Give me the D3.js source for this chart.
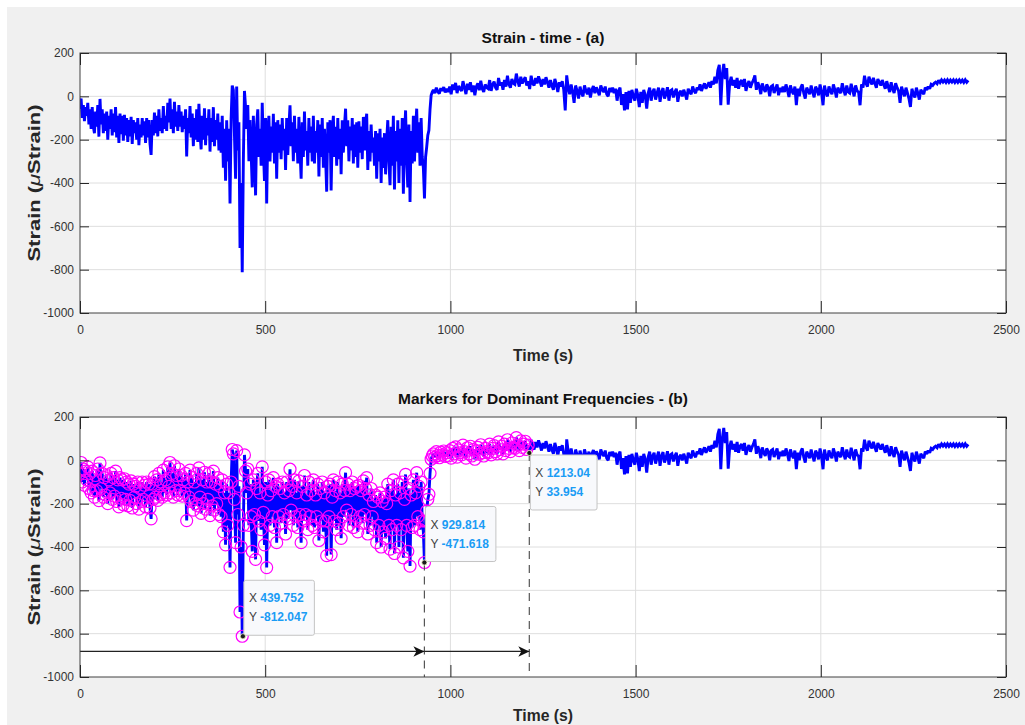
<!DOCTYPE html>
<html><head><meta charset="utf-8">
<script src="https://cdn.jsdelivr.net/npm/d3@7"></script>
<style>body{margin:0;background:#fff}svg{display:block}</style>
</head><body>
<svg id="c" width="1025" height="725"></svg>
<script>
// ---------- data (strain in µStrain, time in s) ----------
// noisy part before the jump: one sample every 3 s
const segAStart = 0, segAStep = 3;
const segA = [-60,-10,-100,-40,-115,-50,-90,-30,-130,-60,
 -150,-50,-140,-170,-70,-140,-40,-186,-12,-130,
 -60,-170,-80,-160,-70,-200,-90,-150,-60,-180,
 -80,-165,-50,-190,-90,-215,-80,-175,-90,-205,
 -85,-180,-100,-210,-110,-185,-95,-220,-110,-170,
 -120,-200,-100,-225,-130,-190,-100,-180,-115,-215,
 -100,-190,-110,-220,-270,-110,-180,-75,-170,-90,
 -185,-60,-160,-100,-170,-45,-150,-90,-160,-30,
 -120,-10,-150,-60,-170,-25,-140,-70,-160,-40,
 -140,-70,-165,-90,-150,-60,-278,-100,-170,-45,
 -190,-80,-230,-100,-200,-60,-210,-35,-170,-245,
 -90,-200,-55,-225,-100,-180,-60,-255,-100,-210,
 -50,-230,-110,-200,-80,-250,-120,-260,-90,-330,
 -150,-390,-110,-300,-150,-494,-100,50,30,-180,
 -380,45,-250,-120,-700,-400,-812,-300,25,-50];
const segBStart = 450, segBStep = 3;
const segB = [-150,-40,-300,-110,-260,-420,-90,-250,-457,-130,
 -60,-280,-150,-320,-30,-240,-390,-100,-495,-160,
 -90,-300,-140,-260,-80,-310,-120,-380,-110,-260,
 -130,-290,-100,-250,-150,-340,-100,-270,-140,-41,
 -230,-120,-300,-90,-260,-150,-310,-95,-250,-380,
 -120,-280,-70,-250,-160,-320,-100,-260,-140,-300,
 -90,-310,-160,-260,-110,-370,-130,-280,-100,-330,
 -150,-280,-440,-120,-260,-110,-435,-170,-90,-280,
 -140,-320,-100,-290,-150,-360,-110,-260,-140,-57,
 -230,-110,-300,-140,-250,-100,-310,-130,-280,-120,
 -330,-115,-260,-140,-290,-95,-250,-130,-80,-340,
 -160,-300,-130,-260,-190,-320,-160,-380,-170,-300,
 -150,-400,-190,-330,-170,-360,-200,-110,-300,-410,
 -140,-320,-90,-430,-160,-300,-110,-400,-150,-320,
 -100,-450,-180,-65,-300,-420,-130,-488,-160,-310,
 -90,-300,-150,-57,-260,-120,-320,-100,-280,-330,
 -471.618,-280,-234,-180,-157,-60,5,20];
// calmer part after the jump: one sample every 4 s
const segCStart = 954, segCStep = 4;
const segC = [30,15,40,22,12,38,25,43,18,35,
 20,45,10,55,30,62,15,48,35,25,
 70,40,10,58,30,65,20,50,5,45,
 60,28,72,35,20,55,40,35,75,25,
 55,68,40,30,85,50,65,30,75,45,
 95,55,40,80,60,55,105,70,45,90,
 60,75,88,50,70,34,95,60,50,85,
 60,92,70,45,80,55,88,65,40,75,
 50,30,80,55,20,65,45,70,30,-65,
 97,40,10,55,20,-30,50,25,-10,45,
 15,0,50,25,10,40,-5,30,48,15,
 42,25,5,50,30,20,45,10,0,38,
 20,40,15,35,-20,25,40,-40,10,-65,
 20,-60,25,-30,30,0,-20,35,5,-50,
 20,-30,30,5,-57,15,40,-20,20,35,
 -15,15,40,-25,20,38,-10,10,42,-20,
 25,30,-5,20,35,-25,15,25,0,30,
 10,-15,35,20,10,45,25,15,40,30,
 55,25,45,60,35,50,65];
const segDStart = 1702, segDStep = 4;
const segD = [40,70,55,90,60,120,145,-41,100,150,
 80,130,-38,60,90,50,75,40,85,35,
 65,75,45,80,25,55,70,40,60,75,
 97,30,65,45,10,60,35,20,55,40,
 0,45,50,15,35,55,5,40,20,45,
 20,55,30,-3,50,25,10,45,-41,35,
 0,40,55,15,-10,40,25,10,50,20,
 -5,45,30,5,55,20,-41,50,15,0,
 45,25,10,55,30,-5,40,25,15,60,
 30,5,50,20,15,58,30,0,50,25,
 20,-41,55,40,95,60,45,90,70,55,
 85,60,40,80,65,50,75,55,35,70,
 45,20,65,35,15,60,40,25,-30,45,
 20,0,40,15,-10,-49,35,10,-5,40,
 15,-15,30,20,10,40,30,45,35,55,
 50,60,65,58,74,64,76,66,75,64,
 76,65,75,66,76,64,75,65,76,66,
 75,64,76,65,74];

const xTicks = [0,500,1000,1500,2000,2500];
const yTicks = [-1000,-800,-600,-400,-200,0,200];
const markerEndTime = 1213.04;
const tipTimes  = [439.752, 929.814, 1213.04];
const tipValues = [-812.047, -471.618, 33.954];
const tipXText  = ['439.752','929.814','1213.04'];
const tipYText  = ['-812.047','-471.618','33.954'];
const tipPlace  = ['up','up','down'];
const arrowLevel = -882;
const arrowSpans = [[0, 929.814],[929.814, 1213.04]];
const dashedTips = [1, 2];

// ---------- build series ----------
function seg(start, step, arr){ return arr.map((v,i)=>({t:start+i*step, v})); }
const series = [].concat(seg(segAStart,segAStep,segA), seg(segBStart,segBStep,segB),
                         seg(segCStart,segCStep,segC), seg(segDStart,segDStep,segD));

const W=1025, H=725;
const FONT = '"Liberation Sans", Arial, Helvetica, sans-serif';
const svg = d3.select('#c');
svg.append('rect').attr('width',W).attr('height',H).attr('fill','#f0f0f0');
svg.append('rect').attr('x',0).attr('y',0).attr('width',7).attr('height',H).attr('fill','#ffffff');
svg.append('rect').attr('x',0).attr('y',0).attr('width',W).attr('height',7).attr('fill','#ffffff');

const defs = svg.append('defs');
defs.append('marker').attr('id','arrowhead').attr('markerUnits','userSpaceOnUse')
  .attr('markerWidth',14).attr('markerHeight',12).attr('refX',12).attr('refY',6).attr('orient','auto')
  .append('path').attr('d','M12,6 L1,0.8 L4,6 L1,11.2 Z').attr('fill','#111');

const L=80, R=1006;
const panels = [
  {top:53,bottom:313,title:'Strain - time - (a)',titleY:43,titleLen:123,xlabY:361,ylabY:183,markers:false},
  {top:417,bottom:677,title:'Markers for Dominant Frequencies - (b)',titleY:404,titleLen:290,xlabY:721,ylabY:547,markers:true}
];

panels.forEach((p,pi)=>{
  const x = d3.scaleLinear().domain([0,2500]).range([L,R]);
  const y = d3.scaleLinear().domain([-1000,200]).range([p.bottom,p.top]);
  const g = svg.append('g');
  g.append('rect').attr('x',L).attr('y',p.top).attr('width',R-L).attr('height',p.bottom-p.top).attr('fill','#fff');
  // grid
  g.append('g').selectAll('line').data(xTicks.slice(1,-1)).join('line')
    .attr('x1',d=>x(d)).attr('x2',d=>x(d)).attr('y1',p.top).attr('y2',p.bottom)
    .attr('stroke','#dedede').attr('stroke-width',1);
  g.append('g').selectAll('line').data(yTicks.slice(1,-1)).join('line')
    .attr('y1',d=>y(d)).attr('y2',d=>y(d)).attr('x1',L).attr('x2',R)
    .attr('stroke','#dedede').attr('stroke-width',1);

  const clipId = 'clip'+pi;
  defs.append('clipPath').attr('id',clipId).append('rect')
    .attr('x',L).attr('y',p.top).attr('width',R-L).attr('height',p.bottom-p.top);
  const plot = g.append('g').attr('clip-path',`url(#${clipId})`);

  const line = d3.line().x(d=>x(d.t)).y(d=>y(d.v));
  plot.append('path').datum(series).attr('d',line).attr('fill','none')
    .attr('stroke','#0000ff').attr('stroke-width',2.9).attr('stroke-linejoin','miter').attr('stroke-miterlimit',2);

  if(p.markers){
    plot.append('g').selectAll('circle').data(series.filter(d=>d.t<=markerEndTime)).join('circle')
      .attr('cx',d=>x(d.t)).attr('cy',d=>y(d.v)).attr('r',6)
      .attr('fill','none').attr('stroke','#ff00ff').attr('stroke-width',1.2);
    // dashed verticals
    plot.append('g').selectAll('line').data(dashedTips).join('line')
      .attr('x1',i=>x(tipTimes[i])).attr('x2',i=>x(tipTimes[i]))
      .attr('y1',i=>y(tipValues[i])).attr('y2',p.bottom)
      .attr('stroke','#555').attr('stroke-width',1.2).attr('stroke-dasharray','8,6');
    // arrows
    plot.append('g').selectAll('line').data(arrowSpans).join('line')
      .attr('x1',d=>x(d[0])).attr('x2',d=>x(d[1]))
      .attr('y1',y(arrowLevel)).attr('y2',y(arrowLevel))
      .attr('stroke','#222').attr('stroke-width',1.2).attr('marker-end','url(#arrowhead)');
    // data tips
    tipTimes.forEach((t,i)=>{
      const px=x(t), py=y(tipValues[i]);
      const tg = g.append('g');
      const txt = tg.append('g').attr('font-family',FONT).attr('font-size',12);
      const t1 = txt.append('text');
      t1.append('tspan').attr('fill','#404040').text('X ');
      t1.append('tspan').attr('fill','#1a9cf5').attr('font-weight','bold').text(tipXText[i]);
      const t2 = txt.append('text');
      t2.append('tspan').attr('fill','#404040').text('Y ');
      t2.append('tspan').attr('fill','#1a9cf5').attr('font-weight','bold').text(tipYText[i]);
      const w = Math.max(t1.node().getComputedTextLength(), t2.node().getComputedTextLength()) + 12;
      const bh = 55;
      const bx = px+1, by = tipPlace[i]==='up' ? py-bh-1 : py+2;
      tg.insert('rect','g').attr('x',bx).attr('y',by).attr('width',w).attr('height',bh).attr('rx',2)
        .attr('fill','#f8f9fc').attr('stroke','#c4c4c4').attr('stroke-width',1);
      t1.attr('x',bx+5).attr('y',by+22);
      t2.attr('x',bx+5).attr('y',by+41);
      g.append('circle').attr('cx',px).attr('cy',py).attr('r',2.6).attr('fill','#1a1a1a')
        .attr('stroke','#fffbd0').attr('stroke-width',0.8);
    });
  }

  // box
  g.append('rect').attr('x',L).attr('y',p.top).attr('width',R-L).attr('height',p.bottom-p.top)
    .attr('fill','none').attr('stroke','#404040').attr('stroke-width',1);

  const fmt = d=>String(d);
  const styleAxis = sel=>{ sel.select('.domain').remove();
    sel.selectAll('.tick line').attr('stroke','#262626');
    sel.selectAll('.tick text').attr('fill','#333').attr('font-family',FONT).attr('font-size',12); };
  g.append('g').attr('transform',`translate(0,${p.bottom})`)
    .call(d3.axisBottom(x).tickValues(xTicks).tickFormat(fmt).tickSize(-12).tickPadding(12)).call(styleAxis);
  g.append('g').attr('transform',`translate(0,${p.top})`)
    .call(d3.axisTop(x).tickValues(xTicks).tickFormat('').tickSize(-12)).call(styleAxis);
  g.append('g').attr('transform',`translate(${L},0)`)
    .call(d3.axisLeft(y).tickValues(yTicks).tickFormat(fmt).tickSize(-9).tickPadding(6)).call(styleAxis);
  g.append('g').attr('transform',`translate(${R},0)`)
    .call(d3.axisRight(y).tickValues(yTicks).tickFormat('').tickSize(-9)).call(styleAxis);

  // title and labels
  g.append('text').attr('x',(L+R)/2).attr('y',p.titleY).attr('text-anchor','middle')
    .attr('font-family',FONT).attr('font-weight','bold').attr('font-size',15).attr('fill','#111')
    .attr('textLength',p.titleLen).attr('lengthAdjust','spacingAndGlyphs').text(p.title);
  g.append('text').attr('x',543).attr('y',p.xlabY).attr('text-anchor','middle')
    .attr('font-family',FONT).attr('font-weight','bold').attr('font-size',16).attr('fill','#262626')
    .attr('textLength',60).attr('lengthAdjust','spacingAndGlyphs').text('Time (s)');
  const yl = g.append('text').attr('transform',`translate(40,${p.ylabY}) rotate(-90)`).attr('text-anchor','middle')
    .attr('font-family',FONT).attr('font-weight','bold').attr('font-size',17).attr('fill','#262626')
    .attr('textLength',157).attr('lengthAdjust','spacingAndGlyphs');
  yl.append('tspan').text('Strain (');
  yl.append('tspan').attr('font-style','italic').attr('font-weight','normal').text('μ');
  yl.append('tspan').text('Strain)');
});
</script>
</body></html>
